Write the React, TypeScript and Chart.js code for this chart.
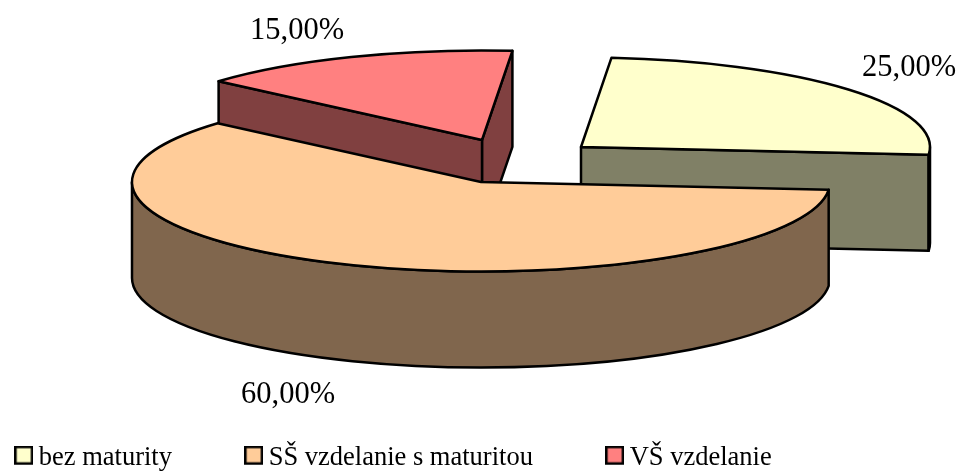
import React, { useEffect, useRef } from "react";
import { Chart, registerables } from "chart.js";

Chart.register(...registerables);

const categories = ["bez maturity", "SŠ vzdelanie s maturitou", "VŠ vzdelanie"];
const shares = [25, 60, 15];

const FONT = "'Liberation Serif', 'Times New Roman', serif";
const topColors = ["#FFFFCC", "#FFCC99", "#FF8080"];
const sideColors = ["#808066", "#80664D", "#804040"];
const CX = 481, CY = 182, RX = 349, RY = 89.5, DEPTH = 96;
const explode = [[100, -35], [0, 0], [1, -42]];
const labelPos = [[862, 65], [241, 392], [250, 28]];

function swatch(color: string) {
  const c = document.createElement("canvas");
  c.width = 19;
  c.height = 24;
  const g = c.getContext("2d")!;
  g.fillStyle = color;
  g.strokeStyle = "#000";
  g.lineWidth = 2.5;
  g.fillRect(1, 1, 17, 17);
  g.strokeRect(1.25, 1.25, 16.5, 16.5);
  return c;
}

const pie3d = {
  id: "pie3d",
  beforeDatasetsDraw(chart: any) {
    const ctx: CanvasRenderingContext2D = chart.ctx;
    const arcs = chart.getDatasetMeta(0).data;
    ctx.save();
    ctx.lineWidth = 2.5;
    ctx.lineJoin = "round";
    ctx.strokeStyle = "#000";
    for (const i of [2, 0, 1]) {
      const { startAngle: a0, endAngle: a1 } = arcs[i];
      const x = CX + explode[i][0], y = CY + explode[i][1];
      const px = (a: number) => x + RX * Math.cos(a);
      const py = (a: number) => y + RY * Math.sin(a);
      ctx.fillStyle = sideColors[i];
      const walls: number[] = [];
      if (Math.cos(a1) > 0) walls.push(a1);
      if (Math.cos(a0) < 0) walls.push(a0);
      for (const a of walls) {
        ctx.beginPath();
        ctx.moveTo(x, y);
        ctx.lineTo(px(a), py(a));
        ctx.lineTo(px(a), py(a) + DEPTH);
        ctx.lineTo(x, y + DEPTH);
        ctx.closePath();
        ctx.fill();
        ctx.stroke();
      }
      for (const k of [-2, 0, 2]) {
        const s = Math.max(a0, k * Math.PI);
        const e = Math.min(a1, (k + 1) * Math.PI);
        if (e <= s) continue;
        ctx.beginPath();
        ctx.ellipse(x, y, RX, RY, 0, s, e);
        ctx.lineTo(px(e), py(e) + DEPTH);
        ctx.ellipse(x, y + DEPTH, RX, RY, 0, e, s, true);
        ctx.closePath();
        ctx.fill();
        ctx.stroke();
      }
      ctx.fillStyle = topColors[i];
      ctx.beginPath();
      ctx.moveTo(x, y);
      ctx.ellipse(x, y, RX, RY, 0, a0, a1);
      ctx.closePath();
      ctx.fill();
      ctx.stroke();
    }
    ctx.fillStyle = "#000";
    ctx.font = `30.5px ${FONT}`;
    ctx.textBaseline = "alphabetic";
    ctx.textAlign = "left";
    shares.forEach((v, i) => {
      ctx.fillText(`${v.toFixed(2).replace(".", ",")}%`, labelPos[i][0], labelPos[i][1] + 11);
    });
    ctx.restore();
    return false;
  },
};

export default function App() {
  const ref = useRef<HTMLCanvasElement>(null);
  useEffect(() => {
    const swatches = topColors.map(swatch);
    const chart = new Chart(ref.current!, {
      type: "pie",
      data: {
        labels: categories,
        datasets: [{ data: shares, backgroundColor: topColors, borderColor: "#000", borderWidth: 2 }],
      },
      plugins: [pie3d],
      options: {
        responsive: false,
        animation: false,
        rotation: 5,
        layout: { padding: { left: -58, right: 0, top: 0, bottom: -9 } },
        plugins: {
          tooltip: { enabled: false },
          legend: {
            display: true,
            position: "bottom",
            align: "start",
            labels: {
              usePointStyle: true,
              pointStyleWidth: 3.5,
              padding: 80,
              color: "#000",
              font: { family: FONT, size: 26.5 },
              generateLabels(c: any) {
                const base = (Chart as any).overrides.pie.plugins.legend.labels.generateLabels(c);
                return base.map((it: any, i: number) => ({ ...it, pointStyle: swatches[i] }));
              },
            },
          },
        },
      },
    } as any);
    return () => chart.destroy();
  }, []);
  return (
    <div style={{ position: "absolute", left: 0, top: 0, width: 965, height: 472 }}>
      <canvas ref={ref} width={965} height={472} style={{ display: "block" }} />
    </div>
  );
}
